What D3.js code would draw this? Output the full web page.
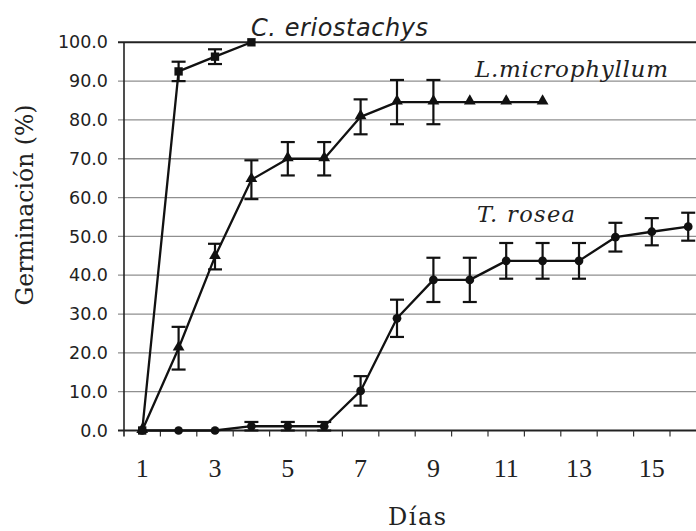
<!DOCTYPE html>
<html>
<head>
<meta charset="utf-8">
<script src="https://cdn.jsdelivr.net/npm/d3@7"></script>
<style>
  html, body { margin: 0; padding: 0; background: #fff; }
  svg { display: block; }
</style>
</head>
<body>
<svg id="chart" width="696" height="531"></svg>
<script>
// Days of observation
const days = [1, 2, 3, 4, 5, 6, 7, 8, 9, 10, 11, 12, 13, 14, 15, 16];
const dayLabels = [1, 3, 5, 7, 9, 11, 13, 15];
const yTicks = [0, 10, 20, 30, 40, 50, 60, 70, 80, 90, 100];

// Cumulative germination (%) and error per species
const eriostachysDays = [1, 2, 3, 4];
const eriostachysMean = [0, 92.5, 96.3, 100];
const eriostachysErr  = [0, 2.5, 1.9, 0];

const microphyllumDays = [1, 2, 3, 4, 5, 6, 7, 8, 9, 10, 11, 12];
const microphyllumMean = [0, 21.2, 44.8, 64.6, 70, 70, 80.8, 84.6, 84.6, 84.6, 84.6, 84.6];
const microphyllumErr  = [0, 5.5, 3.3, 5.0, 4.3, 4.3, 4.5, 5.7, 5.7, 0, 0, 0];

const roseaDays = [1, 2, 3, 4, 5, 6, 7, 8, 9, 10, 11, 12, 13, 14, 15, 16];
const roseaMean = [0, 0, 0, 1.1, 1.1, 1.1, 10.2, 28.9, 38.8, 38.8, 43.7, 43.7, 43.7, 49.8, 51.2, 52.5];
const roseaErr  = [0, 0, 0, 1.1, 1.1, 1.1, 3.8, 4.8, 5.7, 5.7, 4.6, 4.6, 4.6, 3.7, 3.5, 3.6];

const svg = d3.select("#chart");
const plotLeft = 124, plotTop = 42.3, plotBottom = 430.5, step = 36.4;

const x = d3.scaleBand()
  .domain(days)
  .range([plotLeft, plotLeft + step * days.length])
  .padding(0);
const xc = d => x(d) + x.bandwidth() / 2;

const y = d3.scaleLinear().domain([0, 100]).range([plotBottom, plotTop]);

// Horizontal gridlines with outward tick marks
svg.append("g")
  .selectAll("line")
  .data(yTicks.filter(v => v > 0 && v < 100))
  .join("line")
  .attr("x1", plotLeft - 6).attr("x2", 696)
  .attr("y1", d => y(d)).attr("y2", d => y(d))
  .attr("stroke", "#8f8f8f").attr("stroke-width", 1.3);

// Plot frame: top border, left and bottom axes
svg.append("line")
  .attr("x1", plotLeft - 6).attr("x2", 696)
  .attr("y1", y(100)).attr("y2", y(100))
  .attr("stroke", "#222").attr("stroke-width", 2);
svg.append("line")
  .attr("x1", plotLeft - 6).attr("x2", 696)
  .attr("y1", y(0)).attr("y2", y(0))
  .attr("stroke", "#222").attr("stroke-width", 2);
svg.append("line")
  .attr("x1", plotLeft).attr("x2", plotLeft)
  .attr("y1", y(100)).attr("y2", y(0) + 6)
  .attr("stroke", "#222").attr("stroke-width", 1.6);

// Y tick labels
const yAxis = d3.axisLeft(y)
  .tickValues(yTicks)
  .tickFormat(d3.format(".1f"))
  .tickSize(0)
  .tickPadding(16);
const gy = svg.append("g").attr("transform", `translate(${plotLeft},0)`).call(yAxis);
gy.select(".domain").remove();
gy.selectAll("text")
  .attr("font-family", "DejaVu Sans, sans-serif")
  .attr("font-size", 17.5)
  .attr("fill", "#222");

// X tick marks at category boundaries
const edges = days.map(d => x(d)).concat([x(days[days.length - 1]) + x.bandwidth()]);
svg.append("g")
  .selectAll("line")
  .data(edges.slice(1))
  .join("line")
  .attr("x1", d => d).attr("x2", d => d)
  .attr("y1", y(0)).attr("y2", y(0) + 6)
  .attr("stroke", "#333").attr("stroke-width", 1.2);

// X tick labels
const xAxis = d3.axisBottom(x)
  .tickValues(dayLabels)
  .tickSize(0)
  .tickPadding(28);
const gx = svg.append("g").attr("transform", `translate(0,${plotBottom})`).call(xAxis);
gx.select(".domain").remove();
gx.selectAll("text")
  .attr("font-family", "Liberation Serif, serif")
  .attr("font-size", 26)
  .attr("fill", "#222");

// Axis titles
svg.append("text")
  .attr("x", 417).attr("y", 524.5)
  .attr("text-anchor", "middle")
  .attr("font-family", "DejaVu Serif, serif")
  .attr("font-size", 24)
  .attr("textLength", 58).attr("lengthAdjust", "spacing")
  .attr("fill", "#222")
  .text("Días");

svg.append("text")
  .attr("transform", "translate(33,205) rotate(-90)")
  .attr("text-anchor", "middle")
  .attr("font-family", "DejaVu Serif, serif")
  .attr("font-size", 23.5)
  .attr("fill", "#222")
  .text("Germinación (%)");

// Series drawing helper
const line = d3.line().x(d => xc(d.day)).y(d => y(d.mean));
function drawSeries(dayArr, meanArr, errArr, marker) {
  const pts = dayArr.map((d, i) => ({ day: d, mean: meanArr[i], err: errArr[i] }));
  const g = svg.append("g");
  g.append("path")
    .datum(pts)
    .attr("d", line)
    .attr("fill", "none")
    .attr("stroke", "#111")
    .attr("stroke-width", 2.3)
    .attr("stroke-linejoin", "round");

  const eb = g.selectAll("g.err").data(pts.filter(p => p.err > 0)).join("g");
  eb.append("line")
    .attr("x1", p => xc(p.day)).attr("x2", p => xc(p.day))
    .attr("y1", p => y(p.mean + p.err)).attr("y2", p => y(p.mean - p.err));
  eb.append("line")
    .attr("x1", p => xc(p.day) - 7).attr("x2", p => xc(p.day) + 7)
    .attr("y1", p => y(p.mean + p.err)).attr("y2", p => y(p.mean + p.err));
  eb.append("line")
    .attr("x1", p => xc(p.day) - 7).attr("x2", p => xc(p.day) + 7)
    .attr("y1", p => y(p.mean - p.err)).attr("y2", p => y(p.mean - p.err));
  eb.selectAll("line").attr("stroke", "#111").attr("stroke-width", 2.2);

  const sym = d3.symbol().type(marker.type).size(marker.size);
  g.selectAll("path.mk")
    .data(pts)
    .join("path")
    .attr("class", "mk")
    .attr("transform", p => `translate(${xc(p.day)},${y(p.mean) + (marker.dy || 0)})`)
    .attr("d", sym)
    .attr("fill", "#111");
}

drawSeries(roseaDays, roseaMean, roseaErr, { type: d3.symbolCircle, size: 60 });
drawSeries(microphyllumDays, microphyllumMean, microphyllumErr, { type: d3.symbolTriangle, size: 60, dy: -1 });
drawSeries(eriostachysDays, eriostachysMean, eriostachysErr, { type: d3.symbolSquare, size: 70 });

// Species labels
svg.append("text")
  .attr("x", 251).attr("y", 36)
  .attr("font-family", "DejaVu Sans, sans-serif")
  .attr("font-style", "italic")
  .attr("font-size", 24)
  .attr("textLength", 177).attr("lengthAdjust", "spacing")
  .attr("fill", "#222")
  .text("C. eriostachys");

svg.append("text")
  .attr("x", 475).attr("y", 77)
  .attr("font-family", "DejaVu Serif, serif")
  .attr("font-style", "italic")
  .attr("font-size", 23)
  .attr("textLength", 193).attr("lengthAdjust", "spacing")
  .attr("fill", "#222")
  .text("L.microphyllum");

svg.append("text")
  .attr("x", 477).attr("y", 222)
  .attr("font-family", "DejaVu Serif, serif")
  .attr("font-style", "italic")
  .attr("font-size", 22.5)
  .attr("textLength", 98).attr("lengthAdjust", "spacing")
  .attr("fill", "#222")
  .text("T. rosea");
</script>
</body>
</html>
